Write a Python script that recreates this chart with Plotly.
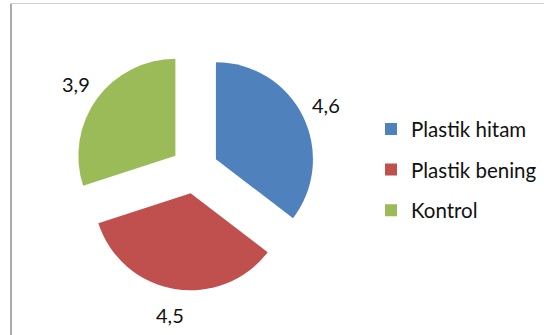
import math
import plotly.graph_objects as go

# Data
labels = ["Plastik hitam", "Plastik bening", "Kontrol"]
values = [4.6, 4.5, 3.9]
colors = ["#4F81BD", "#C0504D", "#9BBB59"]

W, H = 544, 335
PULL = 0.245
DOM_X = [0.1357, 0.5798]
DOM_Y = [0.1325, 0.8537]
FONT = "Lato"
TEXT_COLOR = "#111111"

fig = go.Figure()

fig.add_trace(go.Pie(
    labels=labels,
    values=values,
    marker=dict(colors=colors, line=dict(width=0)),
    pull=[PULL] * len(values),
    sort=False,
    direction="clockwise",
    rotation=0,
    textinfo="none",
    hoverinfo="label+value",
    domain=dict(x=DOM_X, y=DOM_Y),
))

# Invisible spacer entry: gives the legend a named group so each slice
# is laid out as its own group and tracegroupgap spaces the rows.
fig.add_trace(go.Scatter(
    x=[None], y=[None], mode="markers", name="",
    legendgroup="spacer", hoverinfo="skip",
    marker=dict(color="rgba(0,0,0,0)", size=1),
))

# Value labels placed outside each slice along its mid-angle
total = sum(values)
cx = W * (DOM_X[0] + DOM_X[1]) / 2
cy = H * (1 - (DOM_Y[0] + DOM_Y[1]) / 2)
r = min(W * (DOM_X[1] - DOM_X[0]), H * (DOM_Y[1] - DOM_Y[0])) / 2 / (1 + PULL)
r_label = r * (1 + PULL) + 26

annotations = []
cum = 0.0
for v in values:
    mid = (cum + v / 2) / total * 2 * math.pi
    cum += v
    px = cx + r_label * math.sin(mid)
    py = cy - r_label * math.cos(mid)
    annotations.append(dict(
        x=px / W, y=1 - py / H, xref="paper", yref="paper",
        text=f"{v:.1f}".replace(".", ","), showarrow=False,
        xanchor="center", yanchor="middle",
        font=dict(family=FONT, size=20, color=TEXT_COLOR),
    ))

# Chart-area frame (left and top edges)
shapes = [
    dict(type="line", xref="paper", yref="paper",
         x0=11 / W, x1=11 / W, y0=-0.1, y1=1 - 3.5 / H,
         line=dict(color="#ababab", width=2)),
    dict(type="line", xref="paper", yref="paper",
         x0=11 / W, x1=1.1, y0=1 - 3.5 / H, y1=1 - 3.5 / H,
         line=dict(color="#cfcfcf", width=1)),
]

fig.update_layout(
    width=W, height=H,
    margin=dict(l=0, r=0, t=0, b=0, pad=0),
    paper_bgcolor="white", plot_bgcolor="white",
    xaxis=dict(visible=False), yaxis=dict(visible=False),
    showlegend=True,
    legend=dict(
        x=371 / W, xanchor="left",
        y=1 - 109.2 / H, yanchor="top",
        traceorder="grouped", tracegroupgap=10.9,
        font=dict(family=FONT, size=20.5, color=TEXT_COLOR),
        bgcolor="rgba(0,0,0,0)",
    ),
    annotations=annotations,
    shapes=shapes,
)

fig.write_html("out.html")
